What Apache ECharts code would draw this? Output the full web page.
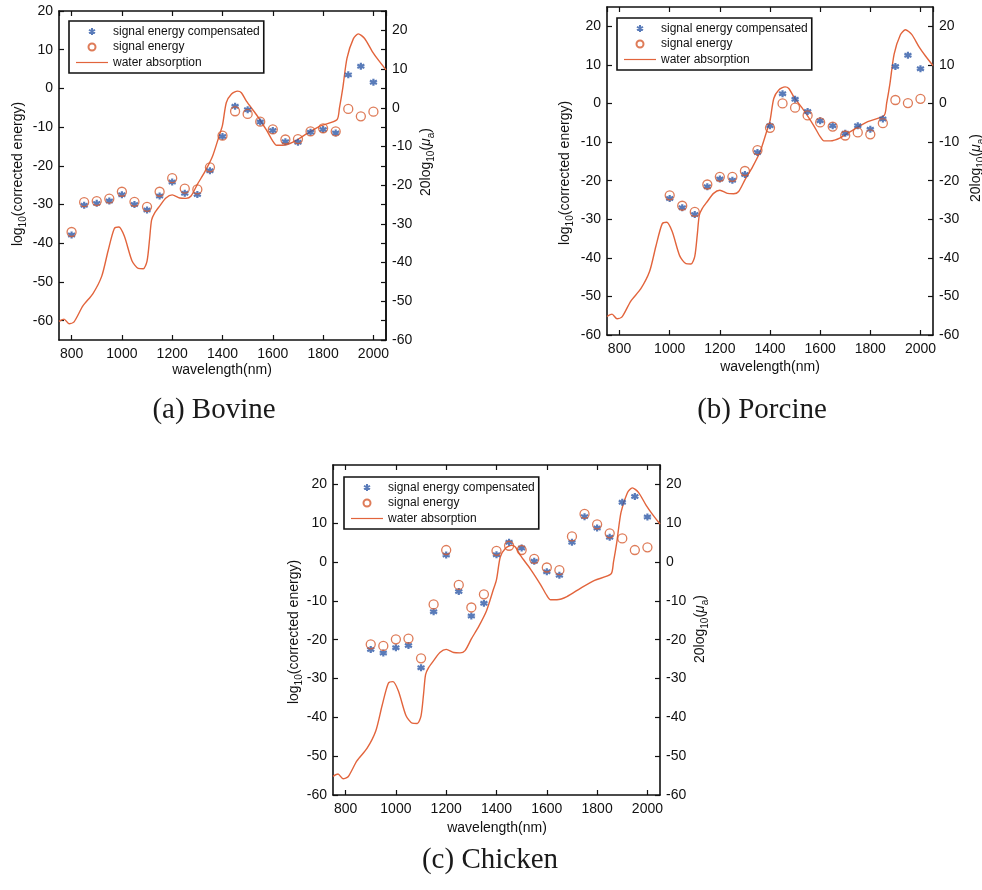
<!DOCTYPE html>
<html>
<head>
<meta charset="utf-8">
<script src="https://cdn.jsdelivr.net/npm/echarts@6/dist/echarts.min.js"></script>
<style>
  html, body { margin: 0; padding: 0; background: #ffffff; }
  #chart { width: 982px; height: 890px; }
</style>
</head>
<body>
<div id="chart"></div>
<script>
// ---- Measured data -------------------------------------------------------
// Wavelengths (nm) at which each tissue sample was measured
const nmBovine  = [800, 850, 900, 950, 1000, 1050, 1100, 1150, 1200, 1250, 1300, 1350, 1400, 1450, 1500, 1550, 1600, 1650, 1700, 1750, 1800, 1850, 1900, 1950, 2000];
const nmPorcine = [1000, 1050, 1100, 1150, 1200, 1250, 1300, 1350, 1400, 1450, 1500, 1550, 1600, 1650, 1700, 1750, 1800, 1850, 1900, 1950, 2000];
const nmChicken = [900, 950, 1000, 1050, 1100, 1150, 1200, 1250, 1300, 1350, 1400, 1450, 1500, 1550, 1600, 1650, 1700, 1750, 1800, 1850, 1900, 1950, 2000];

// log10(corrected energy): compensated signal energy
const compBovine  = [-37.9, -30.2, -29.7, -29.1, -27.5, -30.0, -31.4, -27.8, -24.2, -27.1, -27.4, -21.3, -12.4, -4.6, -5.5, -8.7, -10.9, -13.8, -13.9, -11.3, -10.6, -11.5, 3.5, 5.7, 1.6];
const compPorcine = [-24.6, -27.0, -28.8, -21.6, -19.6, -19.9, -18.4, -12.7, -5.8, 2.5, 1.1, -2.1, -4.5, -5.8, -7.7, -5.8, -6.7, -4.0, 9.6, 12.5, 9.0];
const compChicken = [-22.5, -23.4, -22.1, -21.5, -27.2, -12.8, 1.8, -7.6, -13.9, -10.6, 1.9, 5.1, 3.6, 0.2, -2.5, -3.4, 5.1, 11.7, 8.8, 6.4, 15.4, 16.9, 11.6];

// log10(corrected energy): raw signal energy
const sigBovine  = [-37.1, -29.4, -29.1, -28.5, -26.7, -29.3, -30.6, -26.7, -23.2, -25.9, -26.1, -20.4, -12.2, -5.9, -6.6, -8.6, -10.6, -13.2, -13.1, -11.1, -10.3, -11.1, -5.3, -7.2, -6.0];
const sigPorcine = [-23.8, -26.5, -28.1, -21.0, -19.0, -19.0, -17.5, -12.1, -6.3, 0.0, -1.1, -3.1, -4.9, -6.0, -8.3, -7.5, -8.0, -5.1, 0.9, 0.1, 1.2];
const sigChicken = [-21.2, -21.6, -19.9, -19.7, -24.8, -10.9, 3.1, -5.9, -11.7, -8.3, 2.9, 4.2, 3.1, 0.8, -1.4, -2.1, 6.6, 12.4, 9.7, 7.4, 6.1, 3.1, 3.8];

// Water absorption spectrum, 20log10(mu_a)
const waterNm = [750, 770, 790, 810, 845, 885, 920, 945, 970, 988, 1010, 1040, 1065, 1085, 1100, 1110, 1118, 1130, 1150, 1175, 1200, 1230, 1255, 1275, 1300, 1330, 1360, 1385, 1400, 1415, 1435, 1460, 1475, 1495, 1535, 1575, 1600, 1615, 1640, 1680, 1735, 1790, 1855, 1865, 1878, 1895, 1920, 1940, 1965, 1995, 2020, 2050];
const waterDb = [-55.2, -54.6, -55.8, -55.3, -51.2, -48.0, -43.5, -37.0, -31.2, -30.8, -33.2, -39.5, -41.5, -41.6, -39.6, -34.0, -29.0, -27.2, -25.4, -23.3, -22.5, -23.3, -23.4, -22.8, -19.8, -16.5, -12.6, -7.6, -4.5, 1.3, 3.5, 4.3, 3.9, 1.7, -1.8, -5.8, -8.6, -9.7, -9.7, -8.9, -6.7, -4.7, -3.1, 0.0, 5.0, 12.8, 17.8, 19.1, 17.9, 14.6, 12.3, 9.8];

// Axis ranges and tick steps
const xRange = [750, 2050];
const xStep = 200;
const yStep = 10;
const leftRangeBovine = [-65, 20];
const leftRangeOther = [-60, 25];
const rightRange = [-60, 25];

// Text
const seriesNames = ['signal energy compensated', 'signal energy', 'water absorption'];
const captions = ['(a) Bovine', '(b) Porcine', '(c) Chicken'];
const xTitle = 'wavelength(nm)';

// ---- Layout ---------------------------------------------------------------
const panels = [
  { nm: nmBovine,  comp: compBovine,  sig: sigBovine,  leftRange: leftRangeBovine, mirrorLeft: true,
    grid: { left: 59, top: 11, width: 327, height: 329 }, legend: { left: 69, top: 21 },
    caption: [214, 410], xName: [222, 370], yName: [18, 174], rName: [426, 162] },
  { nm: nmPorcine, comp: compPorcine, sig: sigPorcine, leftRange: leftRangeOther, mirrorLeft: false,
    grid: { left: 607, top: 7, width: 326, height: 328 }, legend: { left: 617, top: 18 },
    caption: [762, 410], xName: [770, 367], yName: [565, 173], rName: [976, 168] },
  { nm: nmChicken, comp: compChicken, sig: sigChicken, leftRange: leftRangeOther, mirrorLeft: false,
    grid: { left: 333, top: 465, width: 327, height: 330 }, legend: { left: 344, top: 477 },
    caption: [490, 860], xName: [497, 828], yName: [294, 632], rName: [700, 629] }
];

const INK = '#111111';
const SANS = 'Liberation Sans, Arial, Helvetica, sans-serif';
const BLUE = '#2f5aa8';
const ORANGE = '#d65a2e';
const WATER = '#e2643c';
const ASTERISK = 'path://M5,0L5,10M0.7,2.5L9.3,7.5M0.7,7.5L9.3,2.5';
const LINE_ICON = 'path://M0,0L32,0L32,1.2L0,1.2Z';

const zip = (xs, ys) => xs.map((x, k) => [x, ys[k]]);
const plain = v => String(v);

function valueAxis(extra) {
  return Object.assign({
    type: 'value',
    axisLine: { show: true, onZero: false, lineStyle: { color: INK, width: 1.6 } },
    axisTick: { show: true, inside: true, length: 5, lineStyle: { color: INK, width: 1.2 } },
    splitLine: { show: false },
    axisLabel: { show: true, color: INK, fontSize: 14, fontFamily: SANS, margin: 6, formatter: plain }
  }, extra);
}

function labelStyle(margin, showMin, showMax) {
  return { show: true, color: INK, fontSize: 14, fontFamily: SANS, margin: margin,
           showMinLabel: showMin, showMaxLabel: showMax, formatter: plain };
}

const grids = [], xAxes = [], yAxes = [], series = [], legends = [], graphics = [];

panels.forEach((p, i) => {
  grids.push(Object.assign({ containLabel: false }, p.grid));

  // bottom x axis with labels, top x axis for the mirrored ticks
  const xb = xAxes.length;
  xAxes.push(valueAxis({
    gridIndex: i, position: 'bottom', min: xRange[0], max: xRange[1],
    minInterval: xStep, maxInterval: xStep, axisLabel: labelStyle(7, false, false)
  }));
  xAxes.push(valueAxis({
    gridIndex: i, position: 'top', min: xRange[0], max: xRange[1],
    minInterval: xStep, maxInterval: xStep, axisLabel: { show: false }
  }));

  const lMin0 = p.leftRange[0] % yStep === 0;
  const lMax0 = p.leftRange[1] % yStep === 0;
  const yl = yAxes.length;
  yAxes.push(valueAxis({
    gridIndex: i, position: 'left', min: p.leftRange[0], max: p.leftRange[1],
    minInterval: yStep, maxInterval: yStep, axisLabel: labelStyle(6, lMin0, lMax0)
  }));
  const yr = yAxes.length;
  yAxes.push(valueAxis({
    gridIndex: i, position: 'right', min: rightRange[0], max: rightRange[1],
    minInterval: yStep, maxInterval: yStep, axisLabel: labelStyle(6, true, false)
  }));
  if (p.mirrorLeft) {
    yAxes.push(valueAxis({
      gridIndex: i, position: 'right', min: p.leftRange[0], max: p.leftRange[1],
      minInterval: yStep, maxInterval: yStep, axisLabel: { show: false }
    }));
  }

  series.push({
    type: 'line', name: seriesNames[2], xAxisIndex: xb, yAxisIndex: yr,
    data: zip(waterNm, waterDb), symbol: 'none', showSymbol: false, smooth: 0.25,
    lineStyle: { color: WATER, width: 1.4 }, itemStyle: { color: WATER }, z: 2, silent: true
  });
  series.push({
    type: 'scatter', name: seriesNames[0], xAxisIndex: xb, yAxisIndex: yl,
    data: zip(p.nm, p.comp), symbol: ASTERISK, symbolSize: 7,
    itemStyle: { color: BLUE, borderColor: BLUE, borderWidth: 2.2 }, z: 3, silent: true
  });
  series.push({
    type: 'scatter', name: seriesNames[1], xAxisIndex: xb, yAxisIndex: yl,
    data: zip(p.nm, p.sig), symbol: 'circle', symbolSize: 9,
    itemStyle: { color: 'rgba(255,255,255,0)', borderColor: ORANGE, borderWidth: 1.3 }, z: 4, silent: true
  });

  legends.push({
    left: p.legend.left, top: p.legend.top, orient: 'vertical',
    data: [
      { name: seriesNames[0] },
      { name: seriesNames[1] },
      { name: seriesNames[2], icon: LINE_ICON, itemStyle: { color: WATER, borderWidth: 0 } }
    ],
    selectedMode: false, symbolKeepAspect: true,
    backgroundColor: '#ffffff', borderColor: INK, borderWidth: 1.6, borderRadius: 0,
    padding: [4, 4, 4, 7], itemGap: 2.5, itemWidth: 32, itemHeight: 7,
    textStyle: { color: INK, fontSize: 12, lineHeight: 13, fontFamily: SANS }
  });

  // axis titles
  graphics.push({
    type: 'text', x: p.xName[0], y: p.xName[1],
    style: { text: xTitle, fill: INK, font: '14px ' + SANS, align: 'center', verticalAlign: 'middle' }
  });
  const rich = {
    n: { fontSize: 14, fontFamily: SANS, fill: INK, color: INK, lineHeight: 20, verticalAlign: 'middle' },
    s: { fontSize: 10, fontFamily: SANS, fill: INK, color: INK, lineHeight: 20, verticalAlign: 'bottom' },
    i: { fontSize: 14, fontFamily: SANS, fontStyle: 'italic', fill: INK, color: INK, lineHeight: 20, verticalAlign: 'middle' }
  };
  graphics.push({
    type: 'text', x: p.yName[0], y: p.yName[1], rotation: Math.PI / 2,
    style: { text: '{n|log}{s|10}{n|(corrected energy)}', rich: rich, align: 'center', verticalAlign: 'middle' }
  });
  graphics.push({
    type: 'text', x: p.rName[0], y: p.rName[1], rotation: Math.PI / 2,
    style: { text: '{n|20log}{s|10}{n|(}{i|\u03bc}{s|a}{n|)}', rich: rich, align: 'center', verticalAlign: 'middle' }
  });
  // caption under each panel
  graphics.push({
    type: 'text', x: p.caption[0], y: p.caption[1],
    style: { text: captions[i], fill: '#1a1a1a', font: '29px "Liberation Serif", "DejaVu Serif", serif', align: 'center', verticalAlign: 'middle' }
  });
});

const chart = echarts.init(document.getElementById('chart'), null, { renderer: 'canvas' });
chart.setOption({
  backgroundColor: '#ffffff',
  animation: false,
  grid: grids,
  xAxis: xAxes,
  yAxis: yAxes,
  legend: legends,
  series: series,
  graphic: { elements: graphics }
});
</script>
</body>
</html>
